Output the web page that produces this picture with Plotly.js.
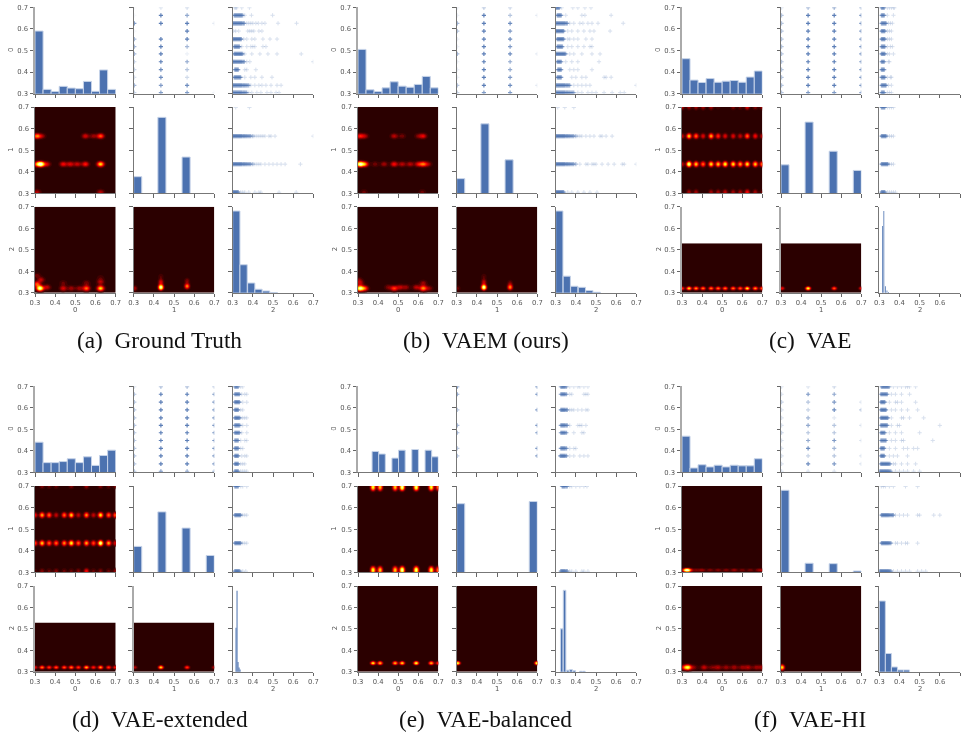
<!DOCTYPE html>
<html><head><meta charset="utf-8">
<script src="https://cdn.plot.ly/plotly-3.0.1.min.js"></script>
<style>html,body{margin:0;padding:0;background:#fff}#p{width:963px;height:732px;filter:blur(.4px)}</style>
</head><body><div id="p"></div>
<script>
// ---------- shared data levels ----------
const BINS10=[.32,.36,.40,.44,.48,.52,.56,.60,.64,.68];
const BINS_E=[.3865,.4195,.4855,.5185,.5845,.6505,.6835];
const Y12=[.698,.663,.626,.59,.553,.518,.484,.448,.411,.376,.339,.305];
const Y7=[.698,.663,.59,.518,.484,.411,.376];
const X1L=[.303,.435,.565,.70];
const Y4=[.698,.565,.435,.305];
const X12=[.3,.333,.37,.407,.444,.48,.516,.553,.59,.627,.663,.70];
const X7=[.375,.41,.484,.518,.59,.663,.70];
const CORE=[.301,.304,.307,.31,.313,.316,.319,.322,.325,.328,.331,.334,.337,.34,.343,.346,.35,.354,.358,.362,.366,.37,.375,.38,.385,.39,.40];
// ---------- panel (a) Ground Truth ----------
const aH0=[.59,.32,.31,.334,.326,.323,.357,.311,.41,.32];
const aH1x=[.32,.44,.56],aH1=[.377,.652,.468];
const aH2x=[.318,.354,.392,.428,.466,.504],aH2=[.68,.43,.345,.316,.308,.301];
const a01=[[.05,.05,.7,.05,.5,.5,.5,.3,.3,.2,.5,.3],[.2,.9,.9,0,.9,.9,.9,.9,.8,.8,.7,.7],[.25,.6,.9,.9,.9,.5,.1,.6,.4,.25,.8,.7],[0,0,.15,0,0,0,0,0,0,0,0,.08]];
const a02=[[0,0,.31,.315,.32,.345,.383],[.305,.35,.36,.393,.498],[.3,.36,.37,.38,.39,.40,.415,.427,.445,.46,.525,.617],[0,0,.305,.315,.33,.375,.385,.395,.405,.43,.445],[.3,.345,.355,.37,.395,.41,.45,.485,.52],[.305,.335,.345,.37,.39,.40,.41,.45,.465],[.305,.35,.36,.395,.435,.475,.52,.64],[.3,.36,.37,.385,.7],[.31,.33,.36,.37,.415],[.305,.34,.36,.39,.41,.445,.495],[.3,.38,.39,.41,.43,.445,.465,.49,.52,.54],[.3,.37,.38,.395,.42,.44,.47,.49,.515,.53]];
const a12=[[0,0,.315,.383],[.3,.40,.41,.42,.43,.44,.45,.46,.48,.49,.51,.7],[.3,.40,.41,.42,.43,.44,.46,.48,.50,.52,.54,.56,.636],[.3,.33,.34,.35,.36,.38,.41,.43,.44,.53,.615]];
const aS10=[[.33,.435,.95],[.31,.435,.45],[.36,.435,.3],[.44,.435,.38],[.475,.435,.34],[.51,.435,.3],[.552,.435,.42],[.625,.435,.72],[.31,.565,.58],[.335,.565,.22],[.55,.565,.33],[.59,.565,.22],[.625,.565,.52],[.31,.303,.28],[.625,.303,.28]];
const aS20=[[.325,.32,.95],[.31,.34,.5],[.33,.36,.28],[.31,.38,.16],[.36,.325,.3],[.44,.32,.34],[.44,.345,.14],[.48,.32,.24],[.52,.32,.24],[.553,.32,.55],[.553,.345,.18],[.625,.32,.72],[.625,.35,.28],[.625,.37,.1]];
const aS21=[[.433,.325,1],[.433,.35,.35],[.433,.375,.12],[.565,.33,.6],[.565,.355,.2],[.303,.32,.25]];
// ---------- panel (b) VAEM ----------
const bH0=[.505,.318,.31,.327,.355,.335,.33,.343,.38,.327];
const bH1x=[.32,.44,.56],bH1=[.368,.622,.455];
const bH2x=[.318,.355,.392,.43,.467,.504],bH2=[.68,.377,.33,.325,.31,.302];
const b01=[[.1,.1,.5,.4,.1,.1,.5,.1,.1,.1,.4,.3],[.4,.9,.9,.9,.9,.9,.9,.9,.9,.9,.9,.7],[.3,.4,.8,.7,.8,.7,.8,.6,.6,.7,.8,.7],[0,.15,0,0,0,0,.15,0,0,0,.15,0]];
const b02=[[.3,.32,.33,.385,.41,.445,.475],[.305,.33,.35,.43,.445,.575],[.3,.36,.37,.39,.42,.435,.46,.48,.51,.635],[.3,.34,.36,.38,.41,.44,.47,.49,.57],[.305,.34,.36,.37,.39,.41,.45,.48],[.305,.335,.36,.38,.41,.44,.47,.48],[.3,.35,.37,.39,.43,.48,.52],[.305,.33,.35,.38,.41,.515],[.31,.33,.37,.39,.41,.48],[.305,.33,.38,.40,.43,.45,.54,.55,.575],[.3,.37,.39,.41,.43,.45,.47,.7],[.3,.39,.41,.43,.46,.48,.50,.54,.58,.62,.64]];
const b12=[[0,0,.31,.345,.39],[.3,.40,.41,.42,.43,.45,.47,.49,.52,.53,.55,.58],[.3,.40,.42,.45,.46,.48,.49,.50,.53,.56,.59,.63,.64,.7],[.3,.34,.36,.38,.41,.44,.47,.505]];
const bS10=[[.31,.435,.95],[.335,.435,.55],[.385,.435,.16],[.43,.435,.24],[.48,.435,.4],[.52,.435,.28],[.56,.435,.28],[.60,.435,.34],[.625,.435,.52],[.65,.435,.22],[.31,.565,.4],[.335,.565,.24],[.48,.565,.28],[.52,.565,.16],[.6,.565,.18],[.625,.565,.34],[.33,.303,.15],[.62,.303,.15]];
const bS20=[[.31,.32,.9],[.335,.32,.45],[.31,.345,.28],[.305,.36,.16],[.45,.325,.18],[.48,.322,.46],[.51,.325,.28],[.54,.325,.22],[.59,.325,.28],[.625,.32,.6],[.625,.345,.22],[.655,.32,.2]];
const bS21=[[.433,.325,1],[.433,.35,.3],[.433,.375,.12],[.565,.325,.6],[.565,.345,.18],[.303,.32,.15]];
// ---------- panel (c) VAE ----------
const cH0=[.462,.363,.352,.37,.353,.358,.361,.353,.377,.405];
const cH1x=[.32,.44,.56,.68],cH1=[.432,.63,.495,.406];
const cH2x=[.3165,.3225,.33,.338,.346],cH2=[.61,.68,.33,.31,.303];
const c01=[[.2,.4,.4,.4,.4,.4,.4,.4,.4,.4,.4,.4],[.5,.9,.9,.9,.9,.9,.9,.9,.9,.9,.9,.7],[.6,.9,.9,.9,.9,.9,.9,.9,.9,.9,.9,.7],[.5,.7,.7,.7,.7,.7,.7,.7,.7,.7,.7,.6]];
const c02=[[.31,.325,.34,.35,.36,.37,.375],[.31,.325,.34,.37],[.31,.335,.345,.355,.365],[.31,.33,.34,.35,.36],[.31,.33,.34,.35,.36],[.31,.33,.34,.355,.365],[.31,.33,.34,.35,.37],[.31,.325,.345,.35],[.31,.325],[.31,.33,.34,.355,.36],[.31,.335,.345,.36],[.31,.325,.34,.35,.36]];
const c12=[[.31,.33,.34,.35,.36,.37],[.31,.335,.34,.35,.36,.37],[.31,.345,.35,.36,.37],[.31,.33,.34,.35,.36,.37,.38]];
const c10a=[.3,.95,.7,.55,.75,.7,.8,.75,.65,.75,.7,.6],c10b=[.3,.7,.55,.35,.65,.45,.35,.35,.3,.55,.4,.3],c10c=[.3,.25,.25,.25,.25,.1,0,.2,.15,.35,.2,.25],c10d=[0,.25,.25,0,.25,.25,.3,.25,.25,.4,.25,.15];
const c20=[.5,.75,.65,.6,.6,.6,.6,.6,.55,.8,.65,.6];
const cS21=[[.305,.32,.4],[.435,.32,.85],[.565,.32,.55],[.7,.32,.4]];
// ---------- panel (d) VAE-extended ----------
const dH0=[.44,.345,.345,.35,.363,.345,.372,.332,.378,.403];
const dH1x=[.32,.44,.56,.68],dH1=[.42,.58,.505,.378];
const dH2x=[.3165,.3215,.3265,.3315,.3365],dH2=[.505,.678,.345,.32,.31];
const d01=[[.2,.4,.4,.4,.4,.4,.4,.4,.4,.4,.4,.4],[.5,.9,.9,.9,.9,.9,.9,.9,.9,.9,.9,.7],[.5,.9,.9,.9,.9,.9,.9,.9,.9,.9,.9,.6],[.4,.7,.7,.7,.7,.7,.7,.7,.7,.7,.7,.5]];
const d02=[[.31,.33,.34,.35],[.31,.335,.345,.36,.37],[.31,.335,.35,.37],[.31,.33,.34,.35],[.31,.335,.34,.35,.36,.37],[.31,.335,.34,.35,.37],[.31,.335,.345,.37],[.31,.33,.34,.36,.37],[.31,.33,.34,.35],[.31,.33,.345,.36,.37],[.31,.33,.34,.35,.36],[.31,.33,.34,.35,.36,.37]];
const d12=[[.31,.33,.34,.35,.37],[.31,.34,.35,.36,.37],[.31,.34,.35,.36,.37],[.31,.335,.34,.35,.365]];
const d10a=[.5,.7,.55,.55,.6,.8,.55,.65,.5,.95,.65,.4],d10b=[.4,.65,.55,.3,.55,.7,.3,.6,.3,.75,.55,.6],d10c=[0,.2,.15,.15,0,.2,0,.25,0,.2,.15,.2],d10d=[.1,.2,.15,.2,.15,.15,.2,.4,.15,.2,.15,.25];
const d20=[.4,.6,.5,.55,.55,.6,.5,.7,.45,.65,.5,.5];
const dS21=[[.305,.32,.3],[.435,.32,.75],[.565,.32,.5],[.7,.32,.3]];
// ---------- panel (e) VAE-balanced ----------
const eH0=[.397,.385,.366,.403,.406,.403,.372];
const eH1x=[.32,.68],eH1=[.618,.628];
const eH2x=[.33,.344,.36,.376,.392,.425,.44],eH2=[.5,.68,.307,.31,.305,.302,.302];
const e01=[[.7,.6,.4,.5,.5,.4,.4],[],[],[.8,.8,.7,.7,.7,.7,.7]];
const e02=[[.325,.355,.37,.39,.41,.42,.44,.46],[.325,.355,.37,.38,.44,.45,.46],[.325,.36,.37,.38,.39,.41,.43,.45,.46],[.325,.36,.37,.41,.42,.43,.45],[.325,.355,.39,.43,.44],[.325,.355,.37,.39,.40],[.32,.355,.37,.39,.42,.44,.46]];
const e12=[[.33,.36,.37,.38,.40,.42,.44,.455],[],[],[.325,.36,.37,.38,.40,.43,.44,.46]];
const e10=[.8,.7,.7,.95,.9,.8,.6];
const e20=[.8,.7,.7,.75,.85,.7,.5];
const eS21=[[.305,.34,.85],[.70,.34,.95]];
// ---------- panel (f) VAE-HI ----------
const fH0=[.468,.32,.335,.325,.333,.325,.333,.33,.33,.363];
const fH1x=[.32,.44,.56,.68],fH1=[.68,.342,.34,.306];
const fH2x=[.315,.345,.375,.405,.435],fH2=[.63,.385,.322,.308,.308];
const f01=[[.2,.2,.3,.2,.2,.2,.3,.2,.2,.2,.2,.2],[.2,.7,.4,.3,.5,.6,.4,.6,.8,.3,.8,.2],[.3,.6,.7,.8,.15,.4,.4,.7,.5,.4,.7,.2],[0,0,.2,.4,0,.2,0,.2,0,.2,.2,0]];
const f02=[[.31,.35,.37,.39,.41,.43,.44,.45,.48],[.305,.34,.36,.38,.41,.45],[.305,.33,.35,.38,.39,.41,.48],[.305,.335,.36,.38,.41,.44,.49],[.305,.345,.36,.41,.42,.45,.52],[.305,.34,.36,.39,.40,.60],[.305,.33,.35,.38,.41,.50],[.305,.335,.36,.38,.41,.42,.565],[.305,.325,.35,.38,.42,.44,.47,.49],[.305,.325,.35,.37,.39,.44],[.305,.355,.37,.38,.41,.44,.48],[.3,.36,.38,.40,.42,.44,.47,.50]];
const f12=[[0,0,.31,.32,.33,.35,.37,.43,.49],[.31,.37,.38,.40,.42,.44,.49,.50,.57,.60],[.31,.36,.38,.39,.41,.43,.44,.49],[.3,.36,.37,.39,.41,.43,.45,.49,.51,.53]];
const fS10=[[.32,.308,.8],[.335,.308,.5],[.37,.308,.18],[.40,.308,.24],[.44,.308,.2],[.48,.308,.2],[.52,.308,.2],[.56,.308,.24],[.6,.308,.18],[.64,.308,.18],[.68,.308,.18],[.7,.308,.2]];
const fS20=[[.33,.32,.75],[.31,.32,.32],[.36,.322,.18],[.41,.32,.3],[.45,.32,.18],[.48,.318,.26],[.52,.32,.23],[.56,.32,.25],[.6,.32,.22],[.63,.32,.26],[.67,.32,.22],[.7,.32,.24]];
const fS21=[[.303,.32,.75]];
// ---------- captions ----------
const CAPTIONS=['(a)\u2002Ground Truth','(b)\u2002VAEM (ours)','(c)\u2002VAE','(d)\u2002VAE-extended','(e)\u2002VAE-balanced','(f)\u2002VAE-HI'];
const TICKS=[.3,.4,.5,.6,.7];
// smoothing tables, by grid step of 0.005
const KN=[1,.85,.52,.22,.06],KT=[1,.65,.18,.02],KY=[1,.85,.5,.2,.05],KW=[1,.92,.72,.48,.27,.13,.05,.015],KX=[1,.92,.72,.45,.2,.05];
// layout in pixels
const COLS=[[[35,115.7],[133.7,214.3],[232.7,313.3]],[[358,438.3],[456.7,537.3],[555.7,636.3]],[[682,762.3],[781,861.3],[879.3,960]]];
const ROWS=[[[7.3,93.7],[107,193.3],[206.7,292.7]],[[386.3,472.3],[486,572.3],[586,671.7]]];
const CAPX=[159.2,485.8,809.5,159.5,485.8,809.5],CAPY=[340,340,340,719,719,719];
const W=963,H=732,BLUE='#4c72b0',TF=6.8;
const HOT=[[0,'#2b0000'],[.37,'#ff0000'],[.75,'#ffff00'],[1,'#ffffee']];

function band(y,xs,ws){return xs.map((x,i)=>[x,y,ws[i]]);}
function field(spots,kx,ky,top){
  const xs=[],ys=[];
  for(let i=0;i<=80;i++)xs.push(+(0.3+i*.005).toFixed(3));
  for(let j=0;j<=80;j++){const v=+(0.3+j*.005).toFixed(3);if(v<=top+1e-6)ys.push(v);}
  const z=ys.map(()=>xs.map(()=>0));
  spots.forEach(([sx,sy,w])=>{
    const cx=Math.round((sx-.3)/.005),cy=Math.round((sy-.3)/.005);
    for(let dy=-ky.length+1;dy<ky.length;dy++){const r=z[cy+dy];if(!r)continue;
      for(let dx=-kx.length+1;dx<kx.length;dx++){if(r[cx+dx]===undefined)continue;
        r[cx+dx]+=w*kx[Math.abs(dx)]*ky[Math.abs(dy)];}}
  });
  return {x:xs,y:ys,z};
}
const PANELS=[
 {h0x:BINS10,h0w:.04,h0:aH0,h1x:aH1x,h1:aH1,h2x:aH2x,h2w:.036,h2:aH2,s01:a01,s02:a02,s12:a12,yl:Y12,
  heat:[{s:aS10,kx:KW,ky:KY,top:.7},{s:aS20,kx:KW,ky:KN,top:.7},{s:aS21,kx:KN,ky:KN,top:.7}]},
 {h0x:BINS10,h0w:.04,h0:bH0,h1x:bH1x,h1:bH1,h2x:bH2x,h2w:.036,h2:bH2,s01:b01,s02:b02,s12:b12,yl:Y12,
  heat:[{s:bS10,kx:KW,ky:KY,top:.7},{s:bS20,kx:KW,ky:KN,top:.7},{s:bS21,kx:KN,ky:KN,top:.7}]},
 {h0x:BINS10,h0w:.04,h0:cH0,h1x:cH1x,h1:cH1,h2x:cH2x,h2w:.004,h2:cH2,s01:c01,s02:c02,s12:c12,yl:Y12,
  heat:[{s:[...band(.435,X12,c10a),...band(.565,X12,c10b),...band(.70,X12,c10c),...band(.303,X12,c10d)],kx:KN,ky:KN,top:.7},{s:band(.32,X12,c20),kx:KN,ky:KT,top:.53},{s:cS21,kx:KN,ky:KT,top:.53}]},
 {h0x:BINS10,h0w:.04,h0:dH0,h1x:dH1x,h1:dH1,h2x:dH2x,h2w:.005,h2:dH2,s01:d01,s02:d02,s12:d12,yl:Y12,
  heat:[{s:[...band(.435,X12,d10a),...band(.565,X12,d10b),...band(.70,X12,d10c),...band(.303,X12,d10d)],kx:KN,ky:KN,top:.7},{s:band(.32,X12,d20),kx:KN,ky:KT,top:.53},{s:dS21,kx:KN,ky:KT,top:.53}]},
 {h0x:BINS_E,h0w:.033,h0:eH0,h1x:eH1x,h1:eH1,h2x:eH2x,h2w:.013,h2:eH2,s01:e01,s02:e02,s12:e12,yl:Y7,
  heat:[{s:[...band(.695,X7,e10),...band(.308,X7,e10)],kx:KN,ky:KX,top:.7},{s:band(.34,X7,e20),kx:KN,ky:KT,top:.7},{s:eS21,kx:KN,ky:KT,top:.7}]},
 {h0x:BINS10,h0w:.04,h0:fH0,h1x:fH1x,h1:fH1,h2x:fH2x,h2w:.03,h2:fH2,s01:f01,s02:f02,s12:f12,yl:Y12,
  heat:[{s:fS10,kx:KW,ky:KT,top:.7},{s:fS20,kx:KW,ky:KY,top:.7},{s:fS21,kx:KN,ky:KN,top:.7}]}
];

const data=[];
const layout={width:W,height:H,margin:{l:0,r:0,t:0,b:0},paper_bgcolor:'#fff',plot_bgcolor:'rgba(0,0,0,0)',showlegend:false,hovermode:false,
  font:{family:'DejaVu Sans',size:TF,color:'#555'},annotations:[]};
let n=0;
function label(x,y,text,rot){
  layout.annotations.push({xref:'paper',yref:'paper',x:x/W,y:1-y/H,xanchor:'center',yanchor:'middle',showarrow:false,textangle:rot,
    text,font:{family:'DejaVu Sans',size:TF,color:'#555'}});
}
function addAxes(cx,cy,r,c,thick){
  n++;const sx=n===1?'':n;
  const common={range:[.3,.7],tickmode:'array',tickvals:TICKS,tickformat:'.1f',ticks:'outside',ticklen:3.5,tickwidth:1,tickcolor:'#666',
    showgrid:false,zeroline:false,showline:true,linecolor:'#777',linewidth:1,tickfont:{family:'DejaVu Sans',size:TF,color:'#555'}};
  layout['xaxis'+sx]={...common,domain:[cx[0]/W,cx[1]/W],anchor:'y'+sx,showticklabels:r===2};
  layout['yaxis'+sx]={...common,domain:[1-cy[1]/H,1-cy[0]/H],anchor:'x'+sx,showticklabels:c===0,
    linecolor:thick?'#aaa':'#777',linewidth:thick?2:1};
  if(r===2)label((cx[0]+cx[1])/2,cy[1]+17.3,String(c),0);
  if(c===0)label(cx[0]-23.5,(cy[0]+cy[1])/2,String(r),-90);
  return {xaxis:'x'+sx,yaxis:'y'+sx};
}
function bars(ax,xs,w,hs){
  data.push({type:'bar',x:xs,y:hs,width:xs.map(()=>w),...ax,
    marker:{color:BLUE,line:{color:w<.006?BLUE:'#c6d3e8',width:w<.006?0:1}}});
}
function strips(ax,levels,rows){
  const dx=[],dy=[],sx=[],sy=[];
  rows.forEach((r,i)=>{ if(!r.length)return;
    const a=r[0],b=r[1];
    if(a>0)CORE.forEach(v=>{if(v>=a&&v<=b){dx.push(v);dy.push(levels[i]);}});
    r.slice(2).forEach(v=>{sx.push(v);sy.push(levels[i]);});
  });
  data.push({type:'scatter',mode:'markers',x:sx,y:sy,...ax,marker:{symbol:'cross-thin',size:3,opacity:.22,color:BLUE,line:{color:BLUE,width:1}}});
  data.push({type:'scatter',mode:'markers',x:dx,y:dy,...ax,marker:{symbol:'cross-thin',size:3,opacity:.45,color:BLUE,line:{color:BLUE,width:1.2}}});
}
function points(ax,levels,table){
  const x=[],y=[],o=[];
  table.forEach((col,i)=>col.forEach((v,j)=>{if(v>0){x.push(X1L[i]);y.push(levels[j]);o.push(v);}}));
  data.push({type:'scatter',mode:'markers',x,y,...ax,marker:{symbol:'cross-thin',size:3,opacity:o,color:BLUE,line:{color:BLUE,width:1.2}}});
}
function heat(ax,h){
  const f=field(h.s,h.kx,h.ky,h.top);
  data.push({type:'contour',x:f.x,y:f.y,z:f.z,...ax,colorscale:HOT,zmin:0,zmax:1,autocontour:false,showscale:false,
    contours:{start:.04,end:1,size:.07,coloring:'fill',showlines:false},line:{width:0},hoverinfo:'skip'});
}
PANELS.forEach((p,pi)=>{
  const cols=COLS[pi%3],rows=ROWS[pi<3?0:1];
  const ax=[];
  for(let r=0;r<3;r++){ax[r]=[];for(let c=0;c<3;c++){
    const short=r===2&&c<2&&(pi===2||pi===3);
    ax[r][c]=addAxes(cols[c],rows[r],r,c,(r===0&&c===0)||short);
  }}
  bars(ax[0][0],p.h0x,p.h0w,p.h0);
  points(ax[0][1],p.yl,p.s01);
  strips(ax[0][2],p.yl,p.s02);
  heat(ax[1][0],p.heat[0]);
  bars(ax[1][1],p.h1x,.04,p.h1);
  strips(ax[1][2],Y4,p.s12);
  heat(ax[2][0],p.heat[1]);
  heat(ax[2][1],p.heat[2]);
  bars(ax[2][2],p.h2x,p.h2w,p.h2);
  layout.annotations.push({xref:'paper',yref:'paper',x:CAPX[pi]/W,y:1-CAPY[pi]/H,xanchor:'center',yanchor:'middle',showarrow:false,
    text:CAPTIONS[pi],font:{family:'Liberation Serif',size:23.3,color:'#111'}});
});
Plotly.newPlot('p',data,layout,{staticPlot:true,displayModeBar:false});
</script></body></html>
